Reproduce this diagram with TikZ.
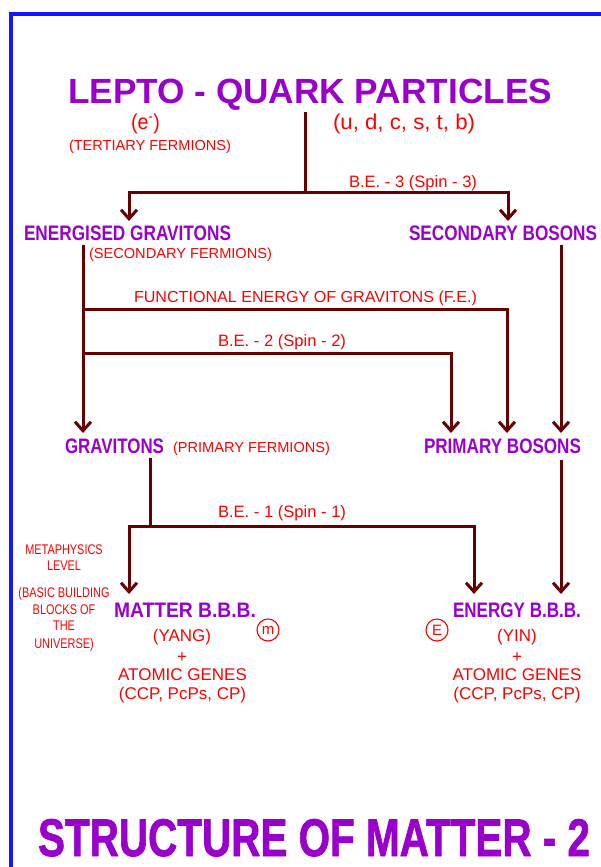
\documentclass[tikz,border=0pt]{standalone}
\usepackage{fontspec}
\setmainfont{Liberation Sans}
\newfontfamily\heavyfont[BoldFeatures={FakeBold=1.5}]{Liberation Sans}
\usetikzlibrary{arrows.meta}
\definecolor{purp}{HTML}{9900CC}
\definecolor{redt}{HTML}{FF0000}
\definecolor{maroon}{HTML}{660000}
\definecolor{bord}{HTML}{1414FF}
\newcommand\fitw[3]{\resizebox{#1pt}{\height}{\fontsize{#2}{#2}\selectfont #3}}
\newcommand\xsc[3]{\scalebox{#1}[1]{\fontsize{#2}{#2}\selectfont #3}}
\begin{document}
\begin{tikzpicture}[x=1pt,y=-1pt,
  lbl/.style={inner sep=0pt, outer sep=0pt, anchor=base west},
  ctr/.style={inner sep=0pt, outer sep=0pt, anchor=base},
  ptxt/.style={text=purp, font=\bfseries},
  rtxt/.style={text=redt},
  conn/.style={draw=maroon, line width=3pt},
  arr/.style={conn, -{Straight Barb[length=9pt,width=16pt,line width=3pt]}},
  circ/.style={circle, draw=redt, line width=1.1pt, text=redt, minimum size=22pt, inner sep=0pt, font=\fontsize{15}{15}\selectfont}]
\useasboundingbox (0,0) rectangle (601,867);
% border
\draw[draw=bord, line width=3.5pt] (11,867) -- (11,14) -- (601,14);

% texts
\node[lbl,ptxt] (lq) at (68,103) {\fitw{484}{35}{LEPTO - QUARK PARTICLES}};
\node[lbl,rtxt] (el) at (131,129) {\fitw{29}{21.5}{(e\textsuperscript{-})}};
\node[lbl,rtxt] (tf) at (69,150) {\fitw{162}{14.5}{(TERTIARY FERMIONS)}};
\node[lbl,rtxt] (qk) at (333,129) {\fitw{142}{21.5}{(u, d, c, s, t, b)}};
\node[lbl,rtxt] (be3) at (349,187) {\fitw{128}{16.5}{B.E. - 3 (Spin - 3)}};
\node[lbl,ptxt] (eg) at (24,240) {\fitw{207}{21}{ENERGISED GRAVITONS}};
\node[lbl,rtxt] (sf) at (89,258) {\fitw{183}{14.5}{(SECONDARY FERMIONS)}};
\node[lbl,ptxt] (sb) at (409,240) {\fitw{188}{21}{SECONDARY BOSONS}};
\node[lbl,rtxt] (fe) at (134,302) {\fitw{343}{16}{FUNCTIONAL ENERGY OF GRAVITONS (F.E.)}};
\node[lbl,rtxt] (be2) at (218,346) {\fitw{128}{16.5}{B.E. - 2 (Spin - 2)}};
\node[lbl,ptxt] (gr) at (65,453) {\fitw{99}{21}{GRAVITONS}};
\node[lbl,rtxt] (pf) at (173,452) {\fitw{157}{14.5}{(PRIMARY FERMIONS)}};
\node[lbl,ptxt] (pb) at (424,453) {\fitw{157}{21}{PRIMARY BOSONS}};
\node[lbl,rtxt] (be1) at (218,517) {\fitw{128}{16.5}{B.E. - 1 (Spin - 1)}};

\node[ctr,rtxt] (mt1) at (64,554) {\xsc{0.78}{14}{METAPHYSICS}};
\node[ctr,rtxt] (mt2) at (64,570) {\xsc{0.78}{14}{LEVEL}};
\node[ctr,rtxt] (mt3) at (64,597) {\xsc{0.78}{14}{(BASIC BUILDING}};
\node[ctr,rtxt] (mt4) at (64,614) {\xsc{0.78}{14}{BLOCKS OF}};
\node[ctr,rtxt] (mt5) at (64,630) {\xsc{0.78}{14}{THE}};
\node[ctr,rtxt] (mt6) at (64,648) {\xsc{0.78}{14}{UNIVERSE)}};

\node[lbl,ptxt] (mb) at (114,617) {\fitw{142}{21}{MATTER B.B.B.}};
\node[lbl,ptxt] (ebb) at (453,617) {\fitw{128}{21}{ENERGY B.B.B.}};
\node[ctr,rtxt,font=\fontsize{17}{17}\selectfont] (yang) at (182,641) {(YANG)};
\node[ctr,rtxt,font=\fontsize{17}{17}\selectfont] (pl1) at (182,662) {+};
\node[ctr,rtxt,font=\fontsize{17}{17}\selectfont] (ag1) at (182.5,680) {ATOMIC GENES};
\node[ctr,rtxt,font=\fontsize{17}{17}\selectfont] (cc1) at (182.5,699) {(CCP, PcPs, CP)};
\node[ctr,rtxt,font=\fontsize{17}{17}\selectfont] (yin) at (517,641) {(YIN)};
\node[ctr,rtxt,font=\fontsize{17}{17}\selectfont] (pl2) at (517,662) {+};
\node[ctr,rtxt,font=\fontsize{17}{17}\selectfont] (ag2) at (517,680) {ATOMIC GENES};
\node[ctr,rtxt,font=\fontsize{17}{17}\selectfont] (cc2) at (517,699) {(CCP, PcPs, CP)};
\node[circ] (cm) at (268,630) {m};
\node[circ] (ce) at (437,630) {E};

\node[lbl,text=purp] (som) at (38,856) {\fitw{552}{53}{\heavyfont\bfseries STRUCTURE OF MATTER - 2}};

% connectors
\coordinate (t0) at (305,112);
\coordinate (j0) at (305,192);
\coordinate (a1) at (129,221);
\coordinate (a2) at (508,221);
\draw[conn] (t0) -- (j0);
\draw[arr] (j0) -| (a1);
\draw[arr] (j0) -| (a2);

\coordinate (e0) at (83,245);
\coordinate (e1) at (83,433);
\coordinate (f0) at (83,309);
\coordinate (f1) at (507,433);
\coordinate (b0) at (83,353);
\coordinate (b1) at (451,433);
\coordinate (s0) at (561,245);
\coordinate (s1) at (561,433);
\draw[arr] (e0) -- (e1);
\draw[arr] (f0) -| (f1);
\draw[arr] (b0) -| (b1);
\draw[arr] (s0) -- (s1);

\coordinate (g0) at (150,458);
\coordinate (g1) at (150,526);
\coordinate (m1) at (129,594);
\coordinate (n1) at (474,594);
\coordinate (p0) at (561,460);
\coordinate (p1) at (561,594);
\draw[conn] (g0) -- (g1);
\draw[arr] (g1) -| (m1);
\draw[arr] (g1) -| (n1);
\draw[arr] (p0) -- (p1);
\end{tikzpicture}
\end{document}
